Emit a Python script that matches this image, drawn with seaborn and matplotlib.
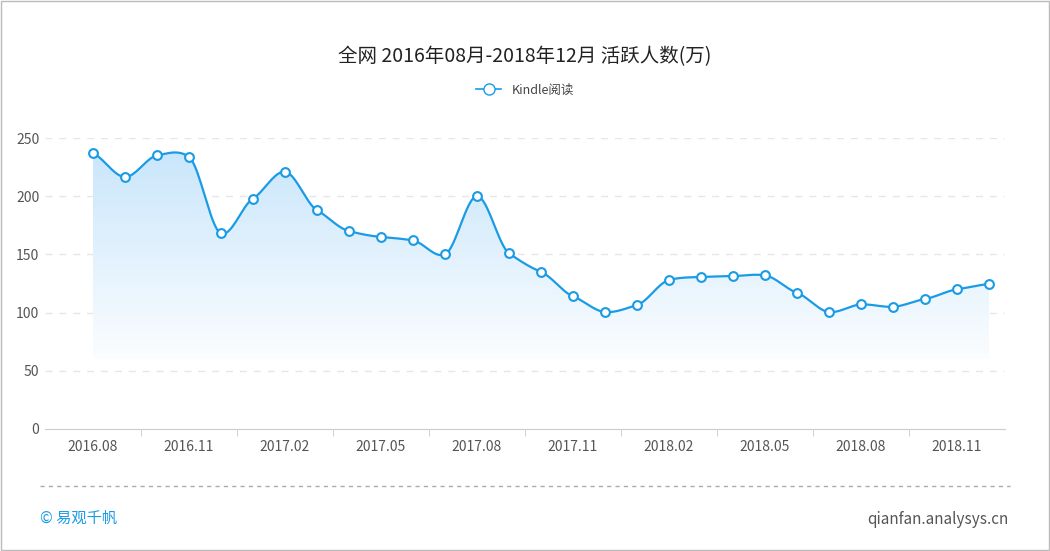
import numpy as np
import pandas as pd
import seaborn as sns
import matplotlib.pyplot as plt
from matplotlib.patches import Polygon
from matplotlib.lines import Line2D
from matplotlib.colors import LinearSegmentedColormap

plt.rcParams['font.family'] = ['Noto Sans CJK SC']

months = ['2016.08', '2016.09', '2016.10', '2016.11', '2016.12',
          '2017.01', '2017.02', '2017.03', '2017.04', '2017.05', '2017.06', '2017.07',
          '2017.08', '2017.09', '2017.10', '2017.11', '2017.12',
          '2018.01', '2018.02', '2018.03', '2018.04', '2018.05', '2018.06', '2018.07',
          '2018.08', '2018.09', '2018.10', '2018.11', '2018.12']
active = [237, 216.5, 235, 233.7, 168, 198, 221, 188, 170, 165, 162, 150,
          200, 151, 135, 114, 100.5, 106.5, 128, 130.6, 131.4, 132, 117, 100.5,
          107, 105, 111.7, 120, 124.6]
yticks = [0, 50, 100, 150, 200, 250]

df = pd.DataFrame({'month': months, 'value': active})
df['i'] = np.arange(len(df))
blue = '#1a9be6'

# smooth curve through the points (cardinal spline, drawing only)
x = df['i'].to_numpy(float)
y = df['value'].to_numpy(float)
m = np.gradient(y, x) * 0.6
xs, ys = [], []
for k in range(len(x) - 1):
    t = np.linspace(0, 1, 20)
    h00 = 2*t**3 - 3*t**2 + 1; h10 = t**3 - 2*t**2 + t
    h01 = -2*t**3 + 3*t**2; h11 = t**3 - t**2
    xs.append(x[k] + t)
    ys.append(h00*y[k] + h10*m[k] + h01*y[k+1] + h11*m[k+1])
xs = np.concatenate(xs); ys = np.concatenate(ys)

fig = plt.figure(figsize=(10.5, 5.51), dpi=100)
ax = fig.add_axes([45/1050, 122/551, 960/1050, 291/551])
ax.set_xlim(-1.5, 28.5)
ax.set_ylim(0, 250)

# gradient fill
base = 60
grad = np.linspace(0, 1, 256).reshape(-1, 1)
cmap = LinearSegmentedColormap.from_list('g', ['#fbfdff', '#c9e6fb'])
im = ax.imshow(grad, extent=[x[0], x[-1], base, 240], origin='lower', aspect='auto',
               cmap=cmap, zorder=1)
poly = Polygon(np.column_stack([np.r_[xs, xs[-1], xs[0]], np.r_[ys, base, base]]),
               closed=True, transform=ax.transData, facecolor='none', edgecolor='none')
ax.add_patch(poly)
im.set_clip_path(poly)

ax.plot(xs, ys, color=blue, lw=1.6, zorder=3)
sns.scatterplot(data=df, x='i', y='value', ax=ax, s=40, color='white',
                edgecolor=blue, linewidth=1.5, zorder=4, legend=False)

for v in yticks[1:]:
    ax.axhline(v, color='#e6e6e6', lw=1, ls=(0, (5, 5)), zorder=0)
ax.set_yticks(yticks)
ax.set_xticks(df['i'][::3])
ax.set_xticklabels(df['month'][::3])
ax.set_xticks(np.arange(1.5, 28.5, 3), minor=True)
ax.tick_params(axis='x', which='major', length=0, labelsize=10, colors='#555555', pad=8)
ax.tick_params(axis='x', which='minor', length=5, color='#cccccc')
ax.tick_params(axis='y', length=0, labelsize=10, colors='#555555', pad=4)
for s in ['top', 'right', 'left']:
    ax.spines[s].set_visible(False)
ax.spines['bottom'].set_color('#cccccc')
ax.set_xlabel(''); ax.set_ylabel('')

fig.text(0.5, 1 - 57/551, '全网 2016年08月-2018年12月 活跃人数(万)', ha='center', va='center',
         fontsize=14, color='#222222')
h = Line2D([], [], color=blue, marker='o', markerfacecolor='white', markersize=8, lw=1.2)
fig.legend([h], ['Kindle阅读'], loc='center', bbox_to_anchor=(0.5, 1 - 90/551),
           frameon=False, fontsize=9, handlelength=2, labelcolor='#444444')

fig.add_artist(Line2D([40/1050, 1010/1050], [1 - 486/551] * 2, color='#aaaaaa', lw=1, ls=(0, (3, 3))))
fig.text(40/1050, 1 - 518/551, '© 易观千帆', fontsize=11, color=blue, va='center')
fig.text(1008/1050, 1 - 520/551, 'qianfan.analysys.cn', fontsize=11, color='#555555', va='center', ha='right')
fig.add_artist(plt.Rectangle((0.001, 0.001), 0.998, 0.997, transform=fig.transFigure,
                             fill=False, edgecolor='#bbbbbb', lw=1))

fig.savefig('out.png', dpi=100)
